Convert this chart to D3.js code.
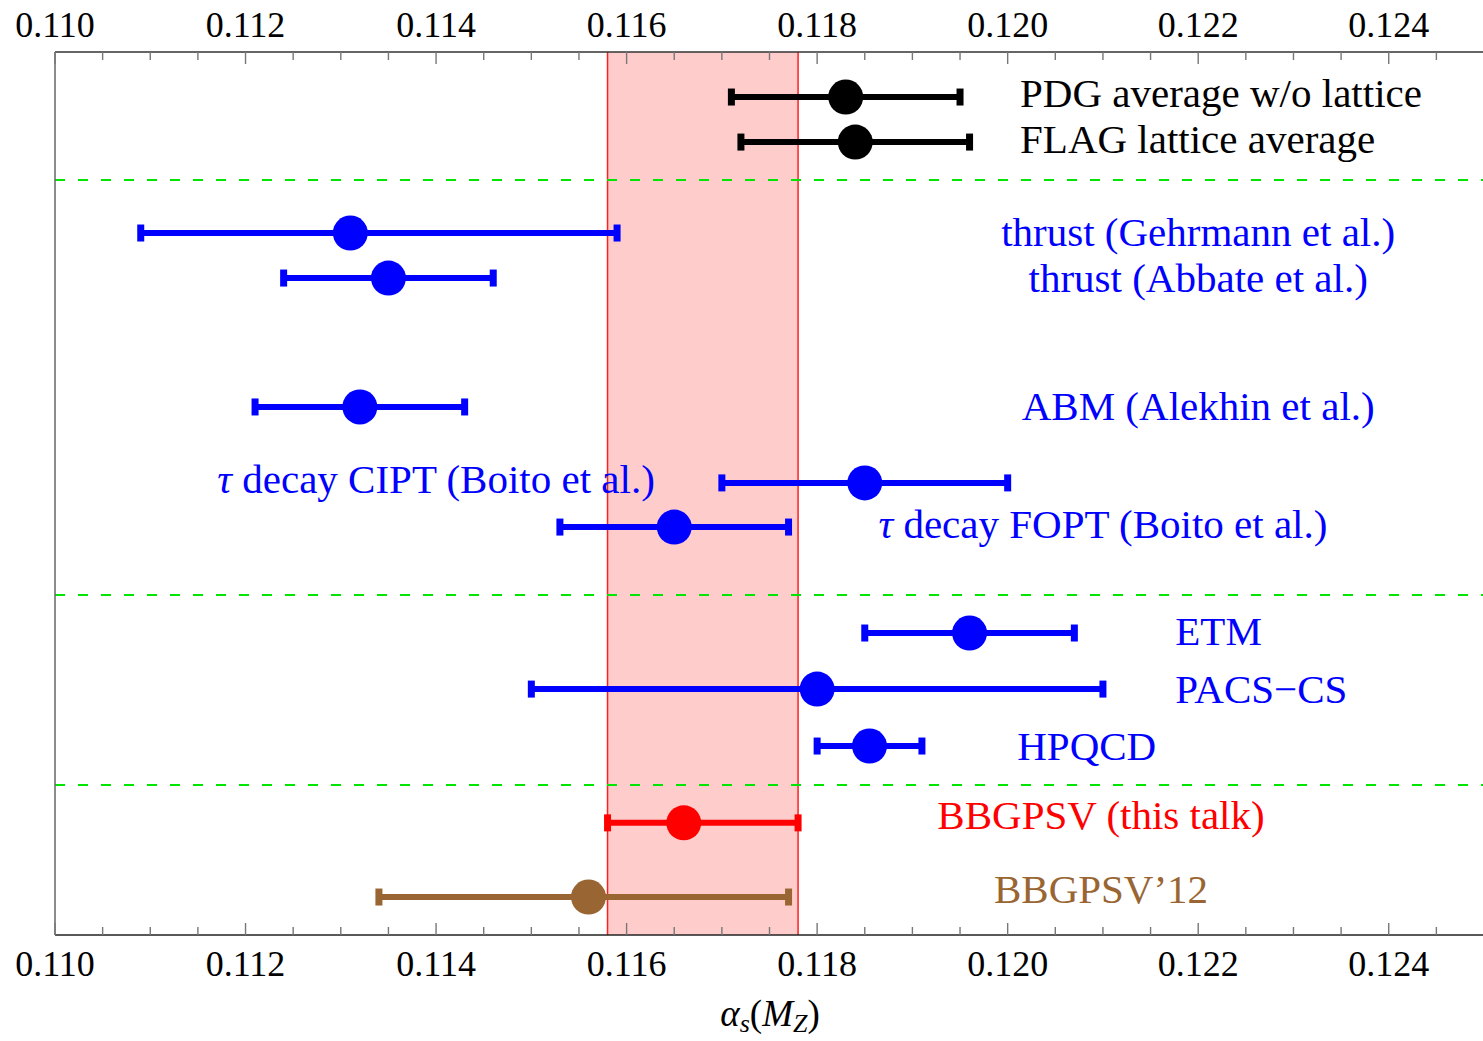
<!DOCTYPE html>
<html>
<head>
<meta charset="utf-8">
<script src="https://cdn.jsdelivr.net/npm/d3@7"></script>
<style>
  body { margin: 0; background: #fff; }
  svg { display: block; font-family: "Liberation Serif", "Times New Roman", serif; }
</style>
</head>
<body>
<svg id="chart" width="1483" height="1041"></svg>
<script>
const names = ['PDG average w/o lattice', 'FLAG lattice average',
  'thrust (Gehrmann et al.)', 'thrust (Abbate et al.)', 'ABM (Alekhin et al.)',
  'τ decay CIPT (Boito et al.)', 'τ decay FOPT (Boito et al.)',
  'ETM', 'PACS−CS', 'HPQCD', 'BBGPSV (this talk)', 'BBGPSV’12'];
const central = [0.1183, 0.1184, 0.1131, 0.1135, 0.1132, 0.1185, 0.1165, 0.1196, 0.1180, 0.11855, 0.1166, 0.1156];
const lower   = [0.1171, 0.1172, 0.1109, 0.1124, 0.1121, 0.1170, 0.1153, 0.1185, 0.1150, 0.1180, 0.1158, 0.1134];
const upper   = [0.1195, 0.1196, 0.1159, 0.1146, 0.1143, 0.1200, 0.1177, 0.1207, 0.1210, 0.1191, 0.1178, 0.1177];
const groups  = ['avg', 'avg', 'pheno', 'pheno', 'pheno', 'pheno', 'pheno', 'lat', 'lat', 'lat', 'new', 'old'];
// vertical slot of each entry (arbitrary units, 0 = top of frame)
const rows    = [1.02, 2.04, 4.10, 5.12, 8.04, 9.76, 10.76, 13.16, 14.43, 15.72, 17.46, 19.14];
const separators = [2.9, 12.3, 16.6];
const band = [0.1158, 0.1178];
const majorTicks = d3.range(0.110, 0.1245, 0.002);
const minorTicks = d3.range(0.110, 0.1251, 0.0005);

// label placement
const labelX = [0.12013, 0.12013, 0.1220, 0.1220, 0.1220, 0.1140, 0.1210, 0.12176, 0.12176, 0.12083, 0.12098, 0.12098];
const labelY = [0.91, 1.97, 4.08, 5.10, 8.02, 9.67, 10.69, 13.11, 14.43, 15.72, 17.28, 18.96];
const labelAnchor = ['start', 'start', 'middle', 'middle', 'middle', 'middle', 'middle', 'start', 'start', 'middle', 'middle', 'middle'];

const colors = { avg: '#000000', pheno: '#0000ff', lat: '#0000ff', new: '#ff0000', old: '#996633' };

const svg = d3.select('#chart');
const mLeft = 55, mRight = 1484, mTop = 52, mBottom = 935;

const x = d3.scaleLinear().domain([0.110, 0.125]).range([mLeft, mRight]);
const y = d3.scaleLinear().domain([0, 20]).range([mTop, mBottom]);

// shaded band
svg.append('rect')
  .attr('x', x(band[0])).attr('y', mTop)
  .attr('width', x(band[1]) - x(band[0])).attr('height', mBottom - mTop)
  .attr('fill', '#ffcccc');
band.forEach(v => {
  svg.append('line')
    .attr('x1', x(v)).attr('x2', x(v)).attr('y1', mTop).attr('y2', mBottom)
    .attr('stroke', '#ff2020').attr('stroke-width', 1.5);
});

// green separators
svg.selectAll('.sep').data(separators).join('line')
  .attr('class', 'sep')
  .attr('x1', mLeft).attr('x2', mRight)
  .attr('y1', d => y(d)).attr('y2', d => y(d))
  .attr('stroke', '#00e600').attr('stroke-width', 2)
  .attr('stroke-dasharray', '10,13');

// frame
svg.append('line').attr('x1', mLeft).attr('x2', mRight).attr('y1', mTop).attr('y2', mTop)
  .attr('stroke', '#333').attr('stroke-width', 1.5);
svg.append('line').attr('x1', mLeft).attr('x2', mRight).attr('y1', mBottom).attr('y2', mBottom)
  .attr('stroke', '#222').attr('stroke-width', 1.5);
svg.append('line').attr('x1', mLeft).attr('x2', mLeft).attr('y1', mTop).attr('y2', mBottom)
  .attr('stroke', '#666').attr('stroke-width', 1.5);

// ticks
const isMajor = v => majorTicks.some(m => Math.abs(m - v) < 1e-7);
[[mTop, 1], [mBottom, -1]].forEach(([yy, dir]) => {
  svg.selectAll(null).data(minorTicks).join('line')
    .attr('x1', d => x(d)).attr('x2', d => x(d))
    .attr('y1', yy).attr('y2', d => yy + dir * (isMajor(d) ? 12 : 8))
    .attr('stroke', '#777').attr('stroke-width', 1.4);
});
const fmt = d3.format('.3f');
[24, 963].forEach(yy => {
  svg.selectAll(null).data(majorTicks).join('text')
    .attr('x', d => x(d)).attr('y', yy).attr('dy', '0.35em')
    .attr('text-anchor', 'middle').attr('font-size', 36).attr('fill', '#000')
    .text(d => fmt(d));
});

// error bars
const idx = d3.range(names.length);
const g = svg.append('g');
g.selectAll('.bar').data(idx).join('line')
  .attr('x1', i => x(lower[i])).attr('x2', i => x(upper[i]))
  .attr('y1', i => y(rows[i])).attr('y2', i => y(rows[i]))
  .attr('stroke', i => colors[groups[i]]).attr('stroke-width', 6);
[lower, upper].forEach(arr => {
  g.selectAll(null).data(idx).join('rect')
    .attr('x', i => x(arr[i]) - 3.5).attr('y', i => y(rows[i]) - 8.5)
    .attr('width', 7).attr('height', 17)
    .attr('fill', i => colors[groups[i]]);
});
g.selectAll('.pt').data(idx).join('circle')
  .attr('cx', i => x(central[i])).attr('cy', i => y(rows[i])).attr('r', 17.5)
  .attr('fill', i => colors[groups[i]]);

// labels
svg.selectAll('.lab').data(idx).join('text')
  .attr('x', i => x(labelX[i])).attr('y', i => y(labelY[i])).attr('dy', '0.35em')
  .attr('text-anchor', i => labelAnchor[i])
  .attr('font-size', 41)
  .attr('fill', i => colors[groups[i]])
  .each(function(i) {
    const t = d3.select(this);
    const name = names[i];
    if (name.startsWith('τ')) {
      t.append('tspan').attr('font-style', 'italic').text('τ');
      t.append('tspan').text(name.slice(1));
    } else {
      t.text(name);
    }
  });

// axis title
const title = svg.append('text')
  .attr('x', 770).attr('y', 1026).attr('text-anchor', 'middle')
  .attr('font-size', 37).attr('font-style', 'italic').attr('fill', '#000');
title.append('tspan').text('α');
title.append('tspan').attr('font-size', 26).attr('dy', 6).text('s');
title.append('tspan').attr('font-style', 'normal').attr('dy', -6).text('(');
title.append('tspan').text('M');
title.append('tspan').attr('font-size', 26).attr('dy', 6).text('Z');
title.append('tspan').attr('font-style', 'normal').attr('dy', -6).text(')');
</script>
</body>
</html>
